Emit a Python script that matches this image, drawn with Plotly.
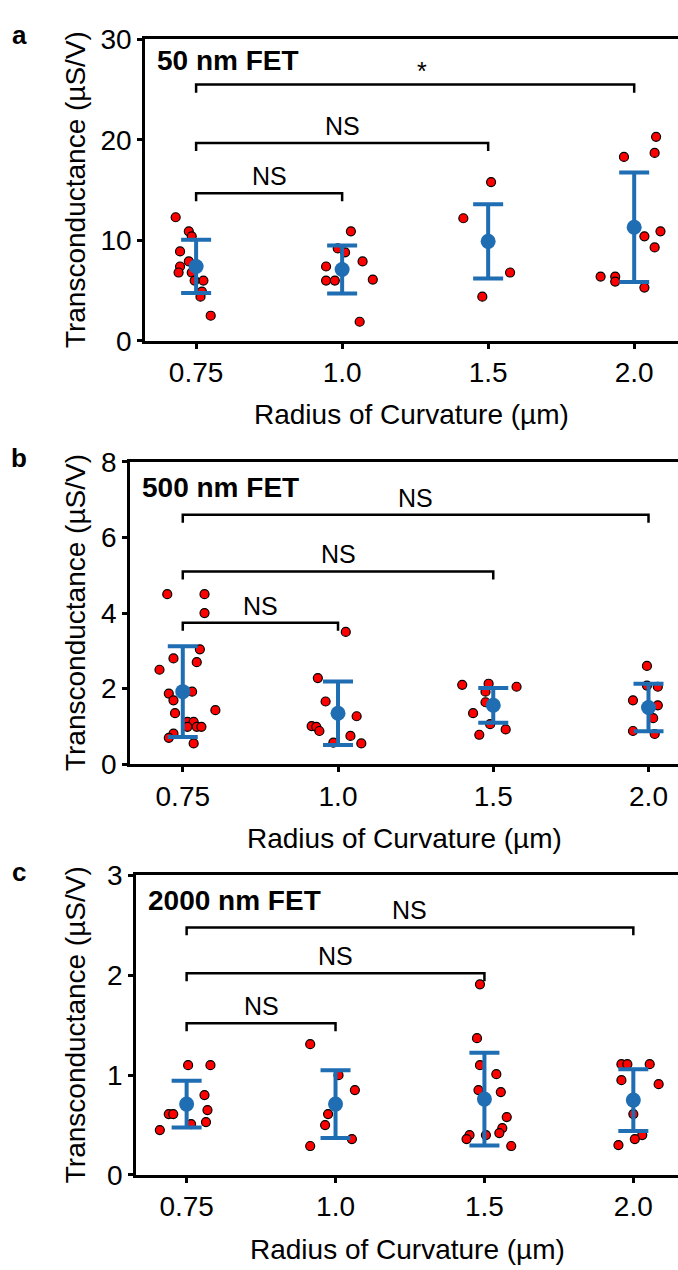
import plotly.graph_objects as go

# ---------------- data ----------------
categories = ["0.75", "1.0", "1.5", "2.0"]
cat_pos = [0, 1, 2, 3]

# Panel a: 50 nm FET
a_values = [
    [12.3, 10.9, 10.4, 8.9, 7.9, 7.4, 6.8, 6.8, 6.0, 6.0, 4.9, 4.4, 2.5],
    [10.9, 9.2, 8.8, 7.9, 7.4, 6.1, 6.0, 6.0, 1.9],
    [15.8, 12.2, 6.8, 4.4],
    [20.3, 18.7, 18.3, 10.9, 10.4, 9.3, 6.4, 6.4, 5.9, 5.3],
]
a_jitter = [
    [-0.14, -0.05, -0.03, -0.11, -0.05, -0.11, -0.12, -0.03, 0.05, -0.01, 0.04, 0.03, 0.10],
    [0.06, -0.03, 0.02, 0.14, -0.11, 0.21, -0.11, -0.05, 0.12],
    [0.02, -0.17, 0.15, -0.04],
    [0.15, 0.14, -0.07, 0.18, 0.07, 0.14, -0.23, -0.13, -0.13, 0.07],
]
a_mean = [7.4, 7.1, 9.9, 11.3]
a_sd = [2.65, 2.4, 3.7, 5.45]
a_brackets = [(0, 1, 14.7, "NS"), (0, 2, 19.7, "NS"), (0, 3, 25.5, "*")]

# Panel b: 500 nm FET
b_values = [
    [4.5, 4.5, 4.0, 3.04, 2.8, 2.7, 2.5, 1.87, 1.92, 1.69, 1.43, 1.35, 1.12, 1.12, 0.99, 0.99, 0.99, 0.81, 0.70, 0.55],
    [3.5, 2.28, 1.66, 1.27, 1.01, 0.99, 0.88, 0.75, 0.57, 0.55],
    [2.1, 2.13, 2.05, 1.92, 1.64, 1.35, 1.06, 0.92, 0.78],
    [2.6, 2.08, 2.05, 1.69, 1.56, 1.22, 0.88, 0.80],
]
b_jitter = [
    [-0.10, 0.14, 0.14, 0.11, -0.06, 0.09, -0.15, -0.09, 0.06, -0.06, 0.21, -0.05, 0.03, 0.07, 0.03, 0.09, 0.12, -0.06, -0.09, 0.07],
    [0.05, -0.13, -0.08, 0.12, -0.17, -0.14, -0.12, 0.08, -0.03, 0.15],
    [-0.20, -0.03, 0.15, -0.05, -0.05, -0.13, -0.02, 0.08, -0.09],
    [-0.01, -0.01, 0.06, -0.10, 0.06, 0.03, -0.10, 0.04],
]
b_mean = [1.92, 1.35, 1.56, 1.5]
b_sd = [1.2, 0.84, 0.46, 0.63]
b_brackets = [(0, 1, 3.74, "NS"), (0, 2, 5.1, "NS"), (0, 3, 6.6, "NS")]

# Panel c: 2000 nm FET
c_values = [
    [1.10, 1.10, 0.80, 0.65, 0.61, 0.61, 0.53, 0.51, 0.45],
    [1.31, 1.0, 0.85, 0.61, 0.50, 0.36, 0.29],
    [1.91, 1.37, 1.10, 1.01, 0.85, 0.83, 0.58, 0.47, 0.42, 0.40, 0.40, 0.36, 0.29],
    [1.11, 1.11, 1.11, 0.95, 0.91, 0.61, 0.40, 0.36, 0.30],
]
c_jitter = [
    [0.01, 0.16, 0.12, 0.14, -0.12, -0.09, 0.13, 0.03, -0.18],
    [-0.17, 0.02, 0.13, -0.05, -0.07, 0.11, -0.17],
    [-0.03, -0.05, -0.03, 0.08, -0.04, 0.11, 0.15, 0.12, 0.10, 0.01, -0.10, -0.12, 0.18],
    [-0.08, -0.04, 0.11, -0.08, 0.17, 0.0, 0.06, 0.01, -0.10],
]
c_mean = [0.71, 0.71, 0.76, 0.75]
c_sd = [0.235, 0.34, 0.465, 0.31]
c_brackets = [(0, 1, 1.52, "NS"), (0, 2, 2.02, "NS"), (0, 3, 2.48, "NS")]

y_title = "Transconductance (µS/V)"
x_title = "Radius of Curvature (µm)"

# ---------------- layout geometry (pixels) ----------------
W, H = 678, 1270
FONT = "Liberation Sans, Arial, sans-serif"
RED = "#FF0000"
BLUE = "#1F6DB2"

panels = [
    dict(letter="a", label="50 nm FET", values=a_values, jitter=a_jitter, mean=a_mean, sd=a_sd,
         brackets=a_brackets, yrange=[0, 30], dtick=10, top=25, bottom=334, left=145,
         xrange=[-0.35, 3.30], drop=0.8, label_y=47),
    dict(letter="b", label="500 nm FET", values=b_values, jitter=b_jitter, mean=b_mean, sd=b_sd,
         brackets=b_brackets, yrange=[0, 8], dtick=2, top=458, bottom=768, left=130,
         xrange=[-0.34, 3.19], drop=0.21, label_y=484),
    dict(letter="c", label="2000 nm FET", values=c_values, jitter=c_jitter, mean=c_mean, sd=c_sd,
         brackets=c_brackets, yrange=[0, 3], dtick=1, top=882, bottom=1189, left=136,
         xrange=[-0.34, 3.30], drop=0.08, label_y=908),
]

fig = go.Figure()
annotations = []
shapes = []

for i, p in enumerate(panels):
    n = "" if i == 0 else str(i + 1)
    xa, ya = "x" + n, "y" + n
    # red individual points
    xs, ys = [], []
    for k, vals in enumerate(p["values"]):
        for v, j in zip(vals, p["jitter"][k]):
            xs.append(cat_pos[k] + j)
            ys.append(v)
    fig.add_trace(go.Scatter(
        x=xs, y=ys, mode="markers", xaxis=xa, yaxis=ya, showlegend=False,
        marker=dict(color=RED, size=9, line=dict(color="black", width=1.2)),
    ))
    # mean +- sd
    fig.add_trace(go.Scatter(
        x=cat_pos, y=p["mean"], mode="markers", xaxis=xa, yaxis=ya, showlegend=False,
        marker=dict(color=BLUE, size=15),
        error_y=dict(type="data", array=p["sd"], color=BLUE, thickness=4, width=15),
    ))

    dom_y = [1 - p["bottom"] / H, 1 - p["top"] / H]
    dom_x = [p["left"] / W, 1.0]
    axis_common = dict(showline=True, linecolor="black", linewidth=2.5, ticks="outside",
                       ticklen=5, tickwidth=2.5, tickcolor="black", showgrid=False,
                       zeroline=False, tickfont=dict(family=FONT, size=28, color="black"))
    fig.update_layout(**{
        ("xaxis" + n): dict(domain=dom_x, range=p["xrange"], tickvals=cat_pos, ticktext=categories,
                           anchor=ya, mirror=True, **axis_common),
        ("yaxis" + n): dict(domain=dom_y, range=p["yrange"], dtick=p["dtick"], anchor=xa,
                           **axis_common),
    })

    # significance brackets
    for (c0, c1, h, txt) in p["brackets"]:
        shapes.append(dict(type="path", xref=xa, yref=ya,
                           path=f"M {c0},{h - p['drop']} L {c0},{h} L {c1},{h} L {c1},{h - p['drop']}",
                           line=dict(color="black", width=2.5)))
        annotations.append(dict(x=(c0 + c1) / 2 + (0.05 if txt == "*" else 0), y=h, xref=xa, yref=ya,
                                text=txt, showarrow=False, yanchor="bottom", yshift=1 if txt != "*" else -2,
                                font=dict(family=FONT, size=25, color="black")))

    # panel label text
    annotations.append(dict(x=(p["left"] + 10) / W, y=1 - p["label_y"] / H, xref="paper", yref="paper",
                            text=f"<b>{p['label']}</b>", showarrow=False, xanchor="left", yanchor="middle",
                            font=dict(family=FONT, size=28, color="black")))
    # panel letter
    annotations.append(dict(x=19 / W, y=1 - (p["top"] - 4) / H, xref="paper", yref="paper",
                            text=f"<b>{p['letter']}</b>", showarrow=False, xanchor="center", yanchor="middle",
                            font=dict(family=FONT, size=26, color="black")))
    # axis titles
    annotations.append(dict(x=75 / W, y=1 - (p["top"] + p["bottom"]) / 2 / H, xref="paper", yref="paper",
                            text=y_title, textangle=-90, showarrow=False, xanchor="center", yanchor="middle",
                            font=dict(family=FONT, size=28, color="black")))
    annotations.append(dict(x=(p["left"] + W) / 2 / W, y=1 - (p["bottom"] + 76) / H, xref="paper", yref="paper",
                            text=x_title, showarrow=False, xanchor="center", yanchor="middle",
                            font=dict(family=FONT, size=28, color="black")))

fig.update_layout(
    width=W, height=H, margin=dict(l=0, r=0, t=0, b=0),
    paper_bgcolor="white", plot_bgcolor="white",
    annotations=annotations, shapes=shapes,
)

fig.write_html("out.html")
